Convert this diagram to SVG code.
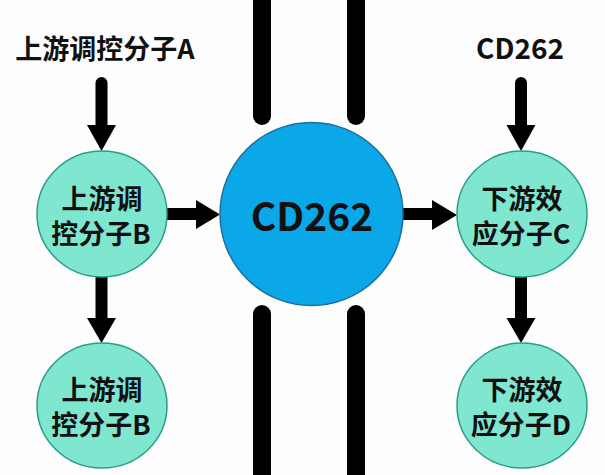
<svg xmlns="http://www.w3.org/2000/svg" width="605" height="475" viewBox="0 0 605 475">
<defs>
<style>
.t{font-family:"Noto Sans CJK SC","Noto Sans",sans-serif;font-weight:bold;fill:#111;text-anchor:middle;dominant-baseline:central}
.teal{fill:#7fe6cf;stroke:#2a9d8c;stroke-width:1.5}
.blue{fill:#0aa8e8;stroke:#1b6e9e;stroke-width:1.5}
.mem{stroke:#000;stroke-width:18;stroke-linecap:round;fill:none}
.shaft{stroke:#000;stroke-width:12;fill:none}
.head{fill:#000}
</style>
</defs>
<rect width="605" height="475" fill="#fdfdfd"/>
<g id="membrane">
<line class="mem" x1="262" y1="-20" x2="262" y2="116"/>
<line class="mem" x1="356" y1="-20" x2="356" y2="116"/>
<line class="mem" x1="262" y1="314" x2="262" y2="495"/>
<line class="mem" x1="356" y1="314" x2="356" y2="495"/>
</g>
<g id="connectors">
<line class="shaft" x1="101.5" y1="83" x2="101.5" y2="127" stroke-linecap="round"/>
<polygon class="head" points="87,125 116,125 101.5,151"/>
<line class="shaft" x1="521" y1="83" x2="521" y2="127" stroke-linecap="round"/>
<polygon class="head" points="506.5,125 535.5,125 521,151"/>
<line class="shaft" x1="101.5" y1="276" x2="101.5" y2="320"/>
<polygon class="head" points="87,318 116,318 101.5,343"/>
<line class="shaft" x1="521" y1="276" x2="521" y2="320"/>
<polygon class="head" points="506.5,318 535.5,318 521,343"/>
<line class="shaft" x1="166" y1="214" x2="198" y2="214"/>
<polygon class="head" points="196,200 196,229 220,214.5"/>
<line class="shaft" x1="402" y1="214" x2="434" y2="214"/>
<polygon class="head" points="432,200 432,230 457,215"/>
</g>
<g id="labelA"><text class="t" x="105" y="47" font-size="27">上游调控分子A</text></g>
<g id="labelCD262"><text class="t" x="520" y="47" font-size="28">CD262</text></g>
<g id="cd262">
<circle class="blue" cx="311.5" cy="214" r="91.5"/>
<text class="t" x="312" y="214" font-size="39">CD262</text>
</g>
<g id="nodeB1">
<ellipse class="teal" cx="102" cy="214" rx="65" ry="63"/>
<text class="t" font-size="27"><tspan x="102" y="197">上游调</tspan><tspan x="101" y="232">控分子B</tspan></text>
</g>
<g id="nodeC">
<ellipse class="teal" cx="522" cy="214" rx="65" ry="63"/>
<text class="t" font-size="27"><tspan x="522" y="197">下游效</tspan><tspan x="521" y="232">应分子C</tspan></text>
</g>
<g id="nodeB2">
<ellipse class="teal" cx="102" cy="405.5" rx="65" ry="62.5"/>
<text class="t" font-size="27"><tspan x="102" y="388">上游调</tspan><tspan x="101" y="423">控分子B</tspan></text>
</g>
<g id="nodeD">
<ellipse class="teal" cx="522" cy="405.5" rx="65" ry="62.5"/>
<text class="t" font-size="27"><tspan x="522" y="388">下游效</tspan><tspan x="521" y="423">应分子D</tspan></text>
</g>
</svg>
